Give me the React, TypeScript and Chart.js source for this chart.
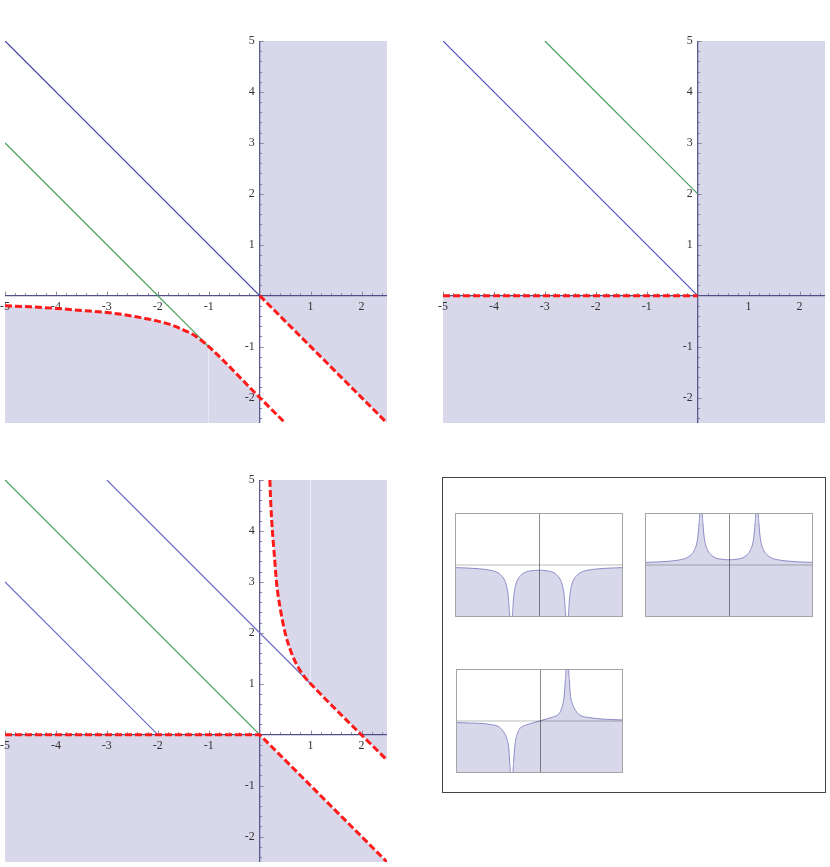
import React, { useEffect, useRef } from "react";
import { Chart, registerables } from "chart.js";
Chart.register(...registerables);

type P = [number, number][];

// ---------- Panel 1 (top-left) ----------
const p1Blue: P = [[-5, 5], [0, 0]];
const p1Green: P = [[-5, 3], [-1, -1]];
const p1RedCurve: P = [[-5, -0.2], [-4.5, -0.22], [-4, -0.25], [-3.5, -0.29], [-3, -0.33], [-2.5, -0.4], [-2, -0.5], [-1.75, -0.57], [-1.5, -0.67], [-1.25, -0.8], [-1, -1], [0, -2], [0.5, -2.5]];
const p1RedDiag: P = [[0, 0], [2.5, -2.5]];
const p1ShadeLowA: P = [[-5, -0.2], [-4.5, -0.22], [-4, -0.25], [-3.5, -0.29], [-3, -0.33], [-2.5, -0.4], [-2, -0.5], [-1.75, -0.57], [-1.5, -0.67], [-1.25, -0.8], [-1, -1]];
const p1ShadeLowB: P = [[-1, -1], [0, -2]];
const p1ShadeHigh: P = [[0, 0], [2.5, -2.5]];

// ---------- Panel 2 (top-right) ----------
const p2Blue: P = [[-5, 5], [0, 0]];
const p2Green: P = [[-3, 5], [0, 2]];
const p2Red: P = [[-5, 0], [0, 0]];
const p2ShadeLow: P = [[-5, 0], [0, 0]];
const p2ShadeRight: P = [[0, 5], [2.5, 5]];

// ---------- Panel 3 (bottom-left) ----------
const p3BlueLow: P = [[-5, 3], [-2, 0]];
const p3BlueHigh: P = [[-3, 5], [1, 1]];
const p3Green: P = [[-5, 5], [0, 0]];
const p3RedLow: P = [[-5, 0], [0, 0], [2.5, -2.5]];
const p3RedCurve: P = [[0.2, 5], [0.22, 4.5], [0.25, 4], [0.29, 3.5], [0.33, 3], [0.4, 2.5], [0.5, 2], [0.6, 1.67], [0.7, 1.43], [0.8, 1.25], [0.9, 1.11], [1, 1], [2.5, -0.5]];
const p3ShadeLow: P = [[-5, 0], [0, 0], [2.5, -2.5]];
const p3ShadeHighA: P = [[0.2, 5], [0.22, 4.5], [0.25, 4], [0.29, 3.5], [0.33, 3], [0.4, 2.5], [0.5, 2], [0.6, 1.67], [0.7, 1.43], [0.8, 1.25], [0.9, 1.11], [1, 1]];
const p3ShadeHighB: P = [[1, 1], [2.5, -0.5]];

// ---------- Inset mini plots ----------
const m1Curve: P = [[-3, -0.05], [-2.5, -0.06], [-2, -0.08], [-1.75, -0.1], [-1.5, -0.14], [-1.35, -0.2], [-1.25, -0.27], [-1.17, -0.38], [-1.11, -0.55], [-1.07, -0.8], [-1.04, -1.3], [-1, -6], [-0.96, -1.3], [-0.93, -0.8], [-0.89, -0.55], [-0.83, -0.38], [-0.75, -0.27], [-0.65, -0.2], [-0.5, -0.14], [-0.25, -0.11], [0, -0.1], [0.25, -0.11], [0.5, -0.14], [0.65, -0.2], [0.75, -0.27], [0.83, -0.38], [0.89, -0.55], [0.93, -0.8], [0.96, -1.3], [1, -6], [1.04, -1.3], [1.07, -0.8], [1.11, -0.55], [1.17, -0.38], [1.25, -0.27], [1.35, -0.2], [1.5, -0.14], [1.75, -0.1], [2, -0.08], [2.5, -0.06], [3, -0.05]];
const m2Curve: P = [[-3, 0.05], [-2.5, 0.06], [-2, 0.08], [-1.75, 0.1], [-1.5, 0.14], [-1.35, 0.2], [-1.25, 0.27], [-1.17, 0.38], [-1.11, 0.55], [-1.07, 0.8], [-1.04, 1.3], [-1, 6], [-0.96, 1.3], [-0.93, 0.8], [-0.89, 0.55], [-0.83, 0.38], [-0.75, 0.27], [-0.65, 0.2], [-0.5, 0.14], [-0.25, 0.11], [0, 0.1], [0.25, 0.11], [0.5, 0.14], [0.65, 0.2], [0.75, 0.27], [0.83, 0.38], [0.89, 0.55], [0.93, 0.8], [0.96, 1.3], [1, 6], [1.04, 1.3], [1.07, 0.8], [1.11, 0.55], [1.17, 0.38], [1.25, 0.27], [1.35, 0.2], [1.5, 0.14], [1.75, 0.1], [2, 0.08], [2.5, 0.06], [3, 0.05]];
const m3Curve: P = [[-3, -0.03], [-2.5, -0.04], [-2, -0.05], [-1.75, -0.07], [-1.5, -0.1], [-1.3, -0.2], [-1.17, -0.35], [-1.11, -0.5], [-1.07, -0.8], [-1.04, -1.3], [-1, -6], [-0.96, -1.3], [-0.93, -0.8], [-0.88, -0.45], [-0.8, -0.25], [-0.7, -0.14], [-0.5, -0.08], [-0.25, -0.04], [0, 0], [0.25, 0.04], [0.5, 0.08], [0.7, 0.14], [0.8, 0.25], [0.88, 0.45], [0.93, 0.8], [0.96, 1.3], [1, 6], [1.04, 1.3], [1.07, 0.8], [1.11, 0.5], [1.17, 0.35], [1.3, 0.2], [1.5, 0.1], [1.75, 0.07], [2, 0.05], [2.5, 0.03], [3, 0.02]];

// ---------- Ticks ----------
const xTickValues = [-5, -4, -3, -2, -1, 1, 2];
const xTickLabels = ["-5", "-4", "-3", "-2", "-1", "1", "2"];
const yTickValues = [-2, -1, 1, 2, 3, 4, 5];
const yTickLabels = ["-2", "-1", "1", "2", "3", "4", "5"];

const SHADE = "#d8d8ea";
const RED = "#ff1a1a";

const pts = (a: P) => a.map(([x, y]) => ({ x, y }));

const line = (data: P, color: string, width: number, dash: number[] = [], smooth = false) => ({
  data: pts(data),
  borderColor: color,
  borderWidth: width,
  borderDash: dash,
  fill: false,
  pointRadius: 0,
  clip: 0,
  tension: 0,
  cubicInterpolationMode: smooth ? "monotone" : "default",
});

const shade = (data: P, target: string, smooth = false) => ({
  data: pts(data),
  borderColor: "rgba(0,0,0,0)",
  borderWidth: 0,
  backgroundColor: SHADE,
  fill: target,
  pointRadius: 0,
  clip: 0,
  tension: 0,
  cubicInterpolationMode: smooth ? "monotone" : "default",
});

const originAxes = {
  id: "originAxes",
  beforeDatasetsDraw(chart: any) {
    const { ctx, chartArea: a, scales } = chart;
    const xs = scales.x;
    const ys = scales.y;
    const x0 = xs.getPixelForValue(0);
    const y0 = ys.getPixelForValue(0);
    ctx.save();
    ctx.strokeStyle = "#8a8aa4";
    ctx.lineWidth = 1;
    for (let i = -25; i <= 12; i++) {
      if (i === 0) continue;
      const px = Math.round(xs.getPixelForValue(i / 5)) + 0.5;
      const len = i % 5 === 0 ? 4 : 2.5;
      ctx.beginPath();
      ctx.moveTo(px, y0);
      ctx.lineTo(px, y0 - len);
      ctx.stroke();
    }
    for (let i = -12; i <= 25; i++) {
      if (i === 0) continue;
      const py = Math.round(ys.getPixelForValue(i / 5)) + 0.5;
      const len = i % 5 === 0 ? 4 : 2.5;
      ctx.beginPath();
      ctx.moveTo(x0, py);
      ctx.lineTo(x0 + len, py);
      ctx.stroke();
    }
    ctx.strokeStyle = "#50508a";
    ctx.lineWidth = 1.2;
    ctx.beginPath();
    ctx.moveTo(a.left, y0);
    ctx.lineTo(a.right, y0);
    ctx.moveTo(x0, a.top);
    ctx.lineTo(x0, a.bottom);
    ctx.stroke();
    ctx.fillStyle = "#333";
    ctx.font = '12px "Liberation Serif", "DejaVu Serif", serif';
    ctx.textAlign = "center";
    ctx.textBaseline = "middle";
    xTickValues.forEach((v, i) => {
      ctx.fillText(xTickLabels[i], xs.getPixelForValue(v), y0 + 11);
    });
    ctx.textAlign = "right";
    yTickValues.forEach((v, i) => {
      ctx.fillText(yTickLabels[i], x0 - 5, ys.getPixelForValue(v));
    });
    ctx.restore();
  },
};

const miniFrame = {
  id: "miniFrame",
  afterDatasetsDraw(chart: any) {
    const { ctx, chartArea: a, scales } = chart;
    const x0 = scales.x.getPixelForValue(0);
    const y0 = scales.y.getPixelForValue(0);
    ctx.save();
    ctx.strokeStyle = "rgba(0,0,0,0.18)";
    ctx.lineWidth = 1.5;
    ctx.beginPath();
    ctx.moveTo(a.left, y0);
    ctx.lineTo(a.right, y0);
    ctx.stroke();
    ctx.strokeStyle = "rgba(0,0,0,0.45)";
    ctx.lineWidth = 1;
    ctx.beginPath();
    ctx.moveTo(Math.round(x0) + 0.5, a.top);
    ctx.lineTo(Math.round(x0) + 0.5, a.bottom);
    ctx.stroke();
    ctx.strokeStyle = "#a4a4a4";
    ctx.strokeRect(a.left + 0.5, a.top + 0.5, a.right - a.left - 1, a.bottom - a.top - 1);
    ctx.restore();
  },
};

function MainPanel({ left, top, datasets }: { left: number; top: number; datasets: any[] }) {
  const ref = useRef<HTMLCanvasElement>(null);
  useEffect(() => {
    const chart = new Chart(ref.current as HTMLCanvasElement, {
      type: "line",
      data: { datasets } as any,
      options: {
        animation: false,
        responsive: false,
        maintainAspectRatio: false,
        layout: { padding: 5 },
        scales: {
          x: { type: "linear", min: -5, max: 2.5, display: false },
          y: { type: "linear", min: -2.5, max: 5, display: false },
        },
        plugins: {
          legend: { display: false },
          tooltip: { enabled: false },
          filler: { drawTime: "beforeDatasetsDraw" },
        } as any,
        elements: { point: { radius: 0 } },
      },
      plugins: [originAxes],
    });
    return () => chart.destroy();
  }, []);
  return (
    <canvas
      ref={ref}
      width={392}
      height={392}
      style={{ position: "absolute", left, top, width: 392, height: 392 }}
    />
  );
}

function MiniPanel({ left, top, width, height, curve }: { left: number; top: number; width: number; height: number; curve: P }) {
  const ref = useRef<HTMLCanvasElement>(null);
  useEffect(() => {
    const chart = new Chart(ref.current as HTMLCanvasElement, {
      type: "line",
      data: {
        datasets: [
          {
            data: pts(curve),
            borderColor: "#8c8cc8",
            borderWidth: 1,
            backgroundColor: SHADE,
            fill: "start",
            pointRadius: 0,
            clip: 0,
            cubicInterpolationMode: "monotone",
          },
        ],
      } as any,
      options: {
        animation: false,
        responsive: false,
        maintainAspectRatio: false,
        layout: { padding: 0 },
        scales: {
          x: { type: "linear", min: -3, max: 3, display: false },
          y: { type: "linear", min: -1, max: 1, display: false },
        },
        plugins: { legend: { display: false }, tooltip: { enabled: false } },
        elements: { point: { radius: 0 } },
      },
      plugins: [miniFrame],
    });
    return () => chart.destroy();
  }, []);
  return (
    <canvas
      ref={ref}
      width={width}
      height={height}
      style={{ position: "absolute", left, top, width, height }}
    />
  );
}

export default function App() {
  const panel1 = [
    line(p1RedCurve, RED, 3, [7, 3], true),
    line(p1RedDiag, RED, 3, [7, 3]),
    line(p1Blue, "#3a3aa6", 1.2),
    line(p1Green, "#3d9b55", 1.2),
    shade(p1ShadeLowA, "start", true),
    shade(p1ShadeLowB, "start"),
    shade(p1ShadeHigh, "end"),
  ];
  const panel2 = [
    line(p2Red, RED, 3, [7, 3]),
    line(p2Blue, "#5050c0", 1.2),
    line(p2Green, "#45a060", 1.2),
    shade(p2ShadeLow, "start"),
    shade(p2ShadeRight, "start"),
  ];
  const panel3 = [
    line(p3RedLow, RED, 3, [7, 3]),
    line(p3RedCurve, RED, 3, [7, 3], true),
    line(p3BlueLow, "#6a6acc", 1.2),
    line(p3BlueHigh, "#6a6acc", 1.2),
    line(p3Green, "#3d9b55", 1.2),
    shade(p3ShadeLow, "start"),
    shade(p3ShadeHighA, "end", true),
    shade(p3ShadeHighB, "end"),
  ];
  return (
    <div style={{ position: "absolute", left: 0, top: 0, width: 830, height: 867, background: "#fff", overflow: "hidden" }}>
      <MainPanel left={0} top={36} datasets={panel1} />
      <MainPanel left={438} top={36} datasets={panel2} />
      <MainPanel left={0} top={475} datasets={panel3} />
      <div
        style={{
          position: "absolute",
          left: 442,
          top: 477,
          width: 384,
          height: 316,
          boxSizing: "border-box",
          border: "1px solid #444",
        }}
      />
      <MiniPanel left={455} top={513} width={168} height={104} curve={m1Curve} />
      <MiniPanel left={645} top={513} width={168} height={104} curve={m2Curve} />
      <MiniPanel left={456} top={669} width={167} height={104} curve={m3Curve} />
    </div>
  );
}
